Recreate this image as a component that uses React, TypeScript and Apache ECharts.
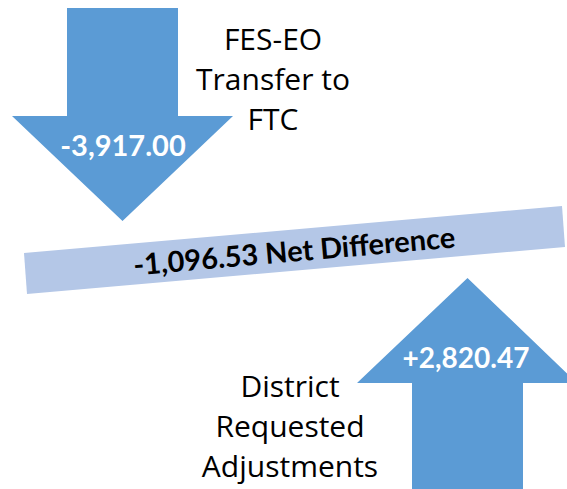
import React, { useEffect, useRef } from "react";
import * as echarts from "echarts";

const categories: string[] = ["FES-EO\nTransfer to\nFTC", "District\nRequested\nAdjustments"];
const values: number[] = [-3917.0, 2820.47];
const netLabel = "Net Difference";

const fmt = (v: number, sign: boolean) => {
  const s = Math.abs(v).toLocaleString("en-US", { minimumFractionDigits: 2, maximumFractionDigits: 2 });
  return (v < 0 ? "-" : sign ? "+" : "") + s;
};

export default function App() {
  const ref = useRef<HTMLDivElement>(null);
  useEffect(() => {
    if (!ref.current) return;
    const chart = echarts.init(ref.current, null, { renderer: "svg" });
    const net = values.reduce((a, b) => a + b, 0);
    const blue = "#5B9BD5";
    const light = "#B4C7E7";
    const downArrow = [[67, 8], [178, 8], [178, 116], [233, 116], [122.5, 221], [12, 116], [67, 116]];
    const upArrow = [[412, 495], [523, 495], [523, 383], [577, 383], [467.5, 278], [357, 383], [412, 383]];
    chart.setOption({
      animation: false,
      graphic: [
        { type: "polygon", shape: { points: downArrow }, style: { fill: blue } },
        { type: "polygon", shape: { points: upArrow }, style: { fill: blue } },
        {
          type: "polygon",
          shape: { points: [[24, 253], [562, 206], [565, 247], [27, 294]] },
          style: { fill: light },
        },
        {
          type: "text",
          x: 294,
          y: 250,
          rotation: (5 * Math.PI) / 180,
          style: {
            text: fmt(net, false) + " " + netLabel,
            fontFamily: "Lato",
            fontWeight: "bold",
            fontSize: 29,
            fill: "#000",
            align: "center",
            verticalAlign: "middle",
          },
        },
        {
          type: "text",
          x: 123,
          y: 144,
          style: {
            text: fmt(values[0], true),
            fontFamily: "Lato",
            fontWeight: "bold",
            fontSize: 29,
            fill: "#fff",
            align: "center",
            verticalAlign: "middle",
          },
        },
        {
          type: "text",
          x: 466,
          y: 357,
          style: {
            text: fmt(values[1], true),
            fontFamily: "Lato",
            fontWeight: "bold",
            fontSize: 28,
            fill: "#fff",
            align: "center",
            verticalAlign: "middle",
          },
        },
        {
          type: "text",
          x: 273,
          y: 78,
          style: {
            text: categories[0],
            fontFamily: "Open Sans",
            fontSize: 30,
            lineHeight: 40,
            fill: "#000",
            align: "center",
            verticalAlign: "middle",
          },
        },
        {
          type: "text",
          x: 290,
          y: 425,
          style: {
            text: categories[1],
            fontFamily: "Open Sans",
            fontSize: 30,
            lineHeight: 40,
            fill: "#000",
            align: "center",
            verticalAlign: "middle",
          },
        },
      ],
    });
    return () => chart.dispose();
  }, []);
  return (
    <div
      ref={ref}
      style={{ position: "fixed", left: 0, top: 0, width: 567, height: 489, background: "#fff" }}
    />
  );
}
